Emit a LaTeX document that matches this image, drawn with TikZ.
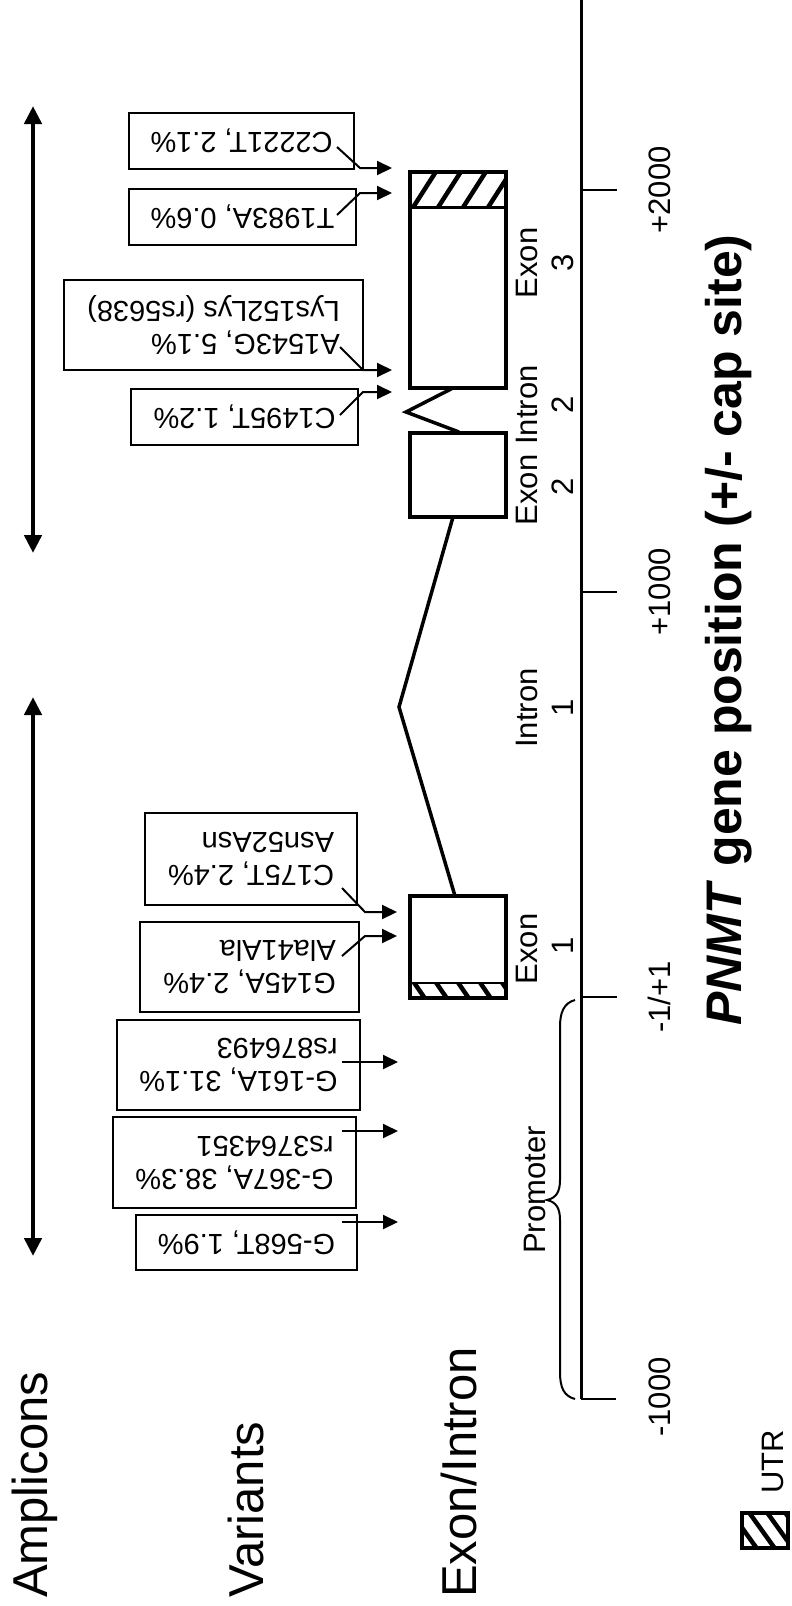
\documentclass[tikz,border=0pt]{standalone}
\usepackage{fontspec}
\setmainfont{Liberation Sans}
\usetikzlibrary{arrows.meta}
\tikzset{
  varbox/.style={draw, line width=2pt, rotate=180, inner sep=0pt, align=left,
    font=\fontsize{29}{33}\selectfont},
  varrow/.style={line width=2pt, -{Triangle[length=15pt,width=14pt]}},
  amparrow/.style={line width=4.5pt, {Triangle[length=18pt,width=17pt]}-{Triangle[length=18pt,width=17pt]}},
  exonbox/.style={draw, line width=4pt, inner sep=0pt},
  intronline/.style={line width=3.5pt, line join=miter},
  lbl/.style={rotate=90, anchor=base, inner sep=0pt, font=\fontsize{31}{36}\selectfont},
  rowtitle/.style={rotate=90, anchor=base west, inner sep=0pt, font=\fontsize{49}{56}\selectfont},
  hatch/.style={line width=4.5pt},
  axisline/.style={line width=3pt},
  tickline/.style={line width=2.5pt}
}
\begin{document}
\begin{tikzpicture}[x=1pt,y=-1pt]
\useasboundingbox (0,0) rectangle (792,1606);

% row titles
\node[rowtitle] (tAmp) at (47,1598) {Amplicons};
\node[rowtitle] (tVar) at (263,1598) {Variants};
\node[rowtitle] (tEx) at (476,1598) {Exon/Intron};

% amplicons
\coordinate (a1t) at (33,106);
\coordinate (a1b) at (33,553);
\coordinate (a2t) at (33,697);
\coordinate (a2b) at (33,1256);
\draw[amparrow] (a1t) -- (a1b);
\draw[amparrow] (a2t) -- (a2b);

% variant boxes
\node[varbox, minimum width=225, minimum height=56] (v1) at (241.5,141) {C2221T, 2.1\%};
\node[varbox, minimum width=227, minimum height=56] (v2) at (242.5,217) {T1983A, 0.6\%};
\node[varbox, minimum width=299, minimum height=90] (v3) at (213.5,325) {A1543G, 5.1\%\\Lys152Lys (rs5638)};
\node[varbox, minimum width=227, minimum height=56] (v4) at (244.5,417) {C1495T, 1.2\%};
\node[varbox, minimum width=212, minimum height=92] (v5) at (251,859) {C175T, 2.4\%\\Asn52Asn};
\node[varbox, minimum width=219, minimum height=90] (v6) at (249.5,967) {G145A, 2.4\%\\Ala41Ala};
\node[varbox, minimum width=243, minimum height=90] (v7) at (238.5,1065) {G-161A, 31.1\%\\rs876493};
\node[varbox, minimum width=243, minimum height=91] (v8) at (234.5,1162.5) {G-367A, 38.3\%\\rs3764351};
\node[varbox, minimum width=221, minimum height=55] (v9) at (246.5,1242.5) {G-568T, 1.9\%};

% variant arrows
\coordinate (v1s) at (337,147); \coordinate (v1k) at (360,168); \coordinate (v1t) at (392,168);
\coordinate (v2s) at (337,215); \coordinate (v2k) at (360,193); \coordinate (v2t) at (392,193);
\coordinate (v3s) at (340,347); \coordinate (v3k) at (363,370); \coordinate (v3t) at (392,370);
\coordinate (v4s) at (340,415); \coordinate (v4k) at (363,392); \coordinate (v4t) at (392,392);
\coordinate (v5s) at (342,888); \coordinate (v5k) at (365,912); \coordinate (v5t) at (397,912);
\coordinate (v6s) at (342,956); \coordinate (v6k) at (365,936); \coordinate (v6t) at (397,936);
\coordinate (v7s) at (342,1062); \coordinate (v7t) at (398,1062);
\coordinate (v8s) at (342,1131); \coordinate (v8t) at (398,1131);
\coordinate (v9s) at (342,1222); \coordinate (v9t) at (398,1222);
\draw[varrow] (v1s) -- (v1k) -- (v1t);
\draw[varrow] (v2s) -- (v2k) -- (v2t);
\draw[varrow] (v3s) -- (v3k) -- (v3t);
\draw[varrow] (v4s) -- (v4k) -- (v4t);
\draw[varrow] (v5s) -- (v5k) -- (v5t);
\draw[varrow] (v6s) -- (v6k) -- (v6t);
\draw[varrow] (v7s) -- (v7t);
\draw[varrow] (v8s) -- (v8t);
\draw[varrow] (v9s) -- (v9t);

% exon 3 hatching
\begin{scope}
  \clip (410,172) rectangle (506,207);
  \foreach \x in {362,387,412,437,462,487,512}
    \draw[hatch] (\x,209) -- (\x+25,170);
\end{scope}
\node[exonbox, minimum width=96, minimum height=216] (ex3) at (458,280) {};
\draw[line width=3pt] (410,207) -- (506,207);

% exon 2
\node[exonbox, minimum width=96, minimum height=84] (ex2) at (458,475) {};

% exon 1 hatching
\begin{scope}
  \clip (410,983) rectangle (506,998);
  \foreach \x in {391,413,435,457,479,501}
    \draw[hatch] (\x,981) -- (\x+13,1000);
\end{scope}
\node[exonbox, minimum width=96, minimum height=102] (ex1) at (458,947) {};
\draw[line width=2pt] (410,983) -- (506,983);

% introns
\coordinate (i2a) at (453,388); \coordinate (i2p) at (406,412); \coordinate (i2b) at (459,432);
\coordinate (i1a) at (453,517); \coordinate (i1p) at (399,707); \coordinate (i1b) at (455,896);
\draw[intronline] (i2a) -- (i2p) -- (i2b);
\draw[intronline] (i1a) -- (i1p) -- (i1b);

% exon/intron labels
\node[lbl] (le3a) at (537,263) {Exon};
\node[lbl] (le3b) at (573,263) {3};
\node[lbl] (li2a) at (537,405) {Intron};
\node[lbl] (li2b) at (573,405) {2};
\node[lbl] (le2a) at (537,490) {Exon};
\node[lbl] (le2b) at (573,487) {2};
\node[lbl] (li1a) at (537,708) {Intron};
\node[lbl] (li1b) at (573,708) {1};
\node[lbl] (le1a) at (537,949) {Exon};
\node[lbl] (le1b) at (573,946) {1};

% axis
\coordinate (axtop) at (581,0);
\coordinate (axbot) at (581,1399);
\draw[axisline] (axtop) -- (axbot);
\coordinate (t1) at (581,190);  \coordinate (t1e) at (617,190);
\coordinate (t2) at (581,592);  \coordinate (t2e) at (617,592);
\coordinate (t3) at (581,997);  \coordinate (t3e) at (617,997);
\coordinate (t4) at (581,1399); \coordinate (t4e) at (616,1399);
\draw[tickline] (t1) -- (t1e);
\draw[tickline] (t2) -- (t2e);
\draw[tickline] (t3) -- (t3e);
\draw[tickline] (t4) -- (t4e);
\node[lbl] (lt1) at (670,190) {+2000};
\node[lbl] (lt2) at (670,592) {+1000};
\node[lbl] (lt3) at (670,997) {-1/+1};
\node[lbl] (lt4) at (670,1397) {-1000};

% promoter brace
\draw[line width=2pt] (575,1000) .. controls (564,1003) and (560,1012) .. (560,1027)
  -- (560,1180) .. controls (560,1192) and (556,1198) .. (547,1200)
  .. controls (556,1202) and (560,1208) .. (560,1220)
  -- (560,1372) .. controls (560,1388) and (564,1396) .. (575,1399);
\node[lbl] (lprom) at (545,1190) {Promoter};

% main axis title
\node[rotate=90, anchor=base, inner sep=0pt, font=\fontsize{50}{58}\selectfont\bfseries] (title) at (741,630) {\textit{PNMT} gene position (+/- cap site)};

% legend
\begin{scope}
  \clip (742,1513) rectangle (788,1548);
  \foreach \x in {712,730,748,766,784}
    \draw[hatch] (\x,1511) -- (\x+28,1550);
\end{scope}
\draw[line width=4.5pt] (742,1513) rectangle (788,1548);
\node[lbl] (lutr) at (783,1462) {UTR};
\end{tikzpicture}
\end{document}
